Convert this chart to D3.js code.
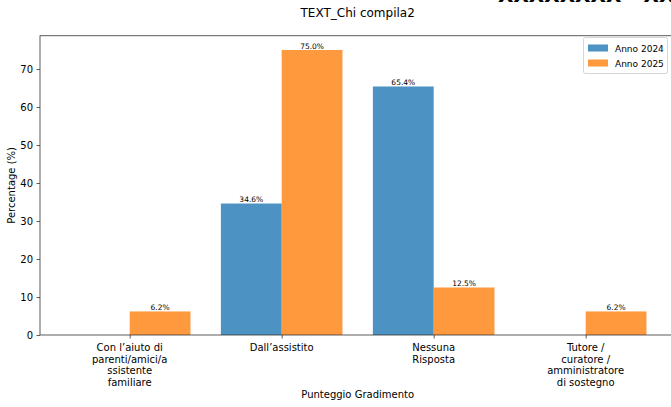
<!DOCTYPE html>
<html><head><meta charset="utf-8">
<script src="https://cdn.jsdelivr.net/npm/d3@7"></script>
<style>body{margin:0;background:#fff}svg{display:block}text{font-family:"DejaVu Sans",sans-serif;fill:#000}</style>
</head><body><svg id="c" width="671" height="407"></svg>
<script>
const categories = [
  ["Con l\u2019aiuto di","parenti/amici/a","ssistente","familiare"],
  ["Dall\u2019assistito"],
  ["Nessuna","Risposta"],
  ["Tutore /","curatore /","amministratore","di sostegno"]
];
const values2024 = [0, 34.6, 65.4, 0];
const values2025 = [6.2, 75.0, 12.5, 6.2];
const seriesNames = ["Anno 2024", "Anno 2025"];
const seriesColors = ["#1f77b4", "#ff7f0e"];
const yTicks = [0,10,20,30,40,50,60,70];

const svg = d3.select("#c");
const L = 40, T = 35.75, B = 335;
const x = d3.scaleLinear().domain([-0.59, 3.59]).range([L, L + 4.18*152]);
const y = d3.scaleLinear().domain([0, 78.75]).range([B, T]);
const R = x.range()[1];
const bw = 0.4;

// top cut-off text (partially outside the frame, as in the reference)
svg.append("text").attr("x", 498).attr("y", 2).style("font-weight","bold").style("font-size","20px")
  .text("XXXXXXXX - XXXXX");

svg.append("text").attr("x", (L+R)/2).attr("y", 17).attr("text-anchor","middle").style("font-size","12px").text("TEXT_Chi compila2");

const series = [values2024, values2025];
series.forEach((vals, si) => {
  const off = si === 0 ? -bw : 0;
  const g = svg.append("g");
  vals.forEach((v, i) => {
    const x0 = x(i + off), x1 = x(i + off + bw);
    g.append("rect").attr("x", x0).attr("width", x1 - x0)
      .attr("y", y(v)).attr("height", y(0) - y(v))
      .attr("fill", seriesColors[si]).attr("fill-opacity", 0.8);
    if (v > 0) {
      g.append("text").attr("x", (x0+x1)/2).attr("y", y(v) - 1.5)
        .attr("text-anchor","middle").style("font-size","7.5px").text(v.toFixed(1) + "%");
    }
  });
});

// axes frame
svg.append("rect").attr("x", L).attr("y", T).attr("width", R - L).attr("height", B - T)
  .attr("fill","none").attr("stroke","#333").attr("stroke-width",0.8);

// y axis
const ya = svg.append("g").attr("transform", `translate(${L},0)`)
  .call(d3.axisLeft(y).tickValues(yTicks).tickSize(3.5).tickPadding(3.5));
ya.select(".domain").remove();
ya.selectAll("line").attr("stroke","#333").attr("stroke-width",0.8);
ya.selectAll("text").style("font-size","10px").style("font-family","DejaVu Sans");

// x axis
const xa = svg.append("g").attr("transform", `translate(0,${B})`)
  .call(d3.axisBottom(x).tickValues([0,1,2,3]).tickSize(3.5).tickFormat(""));
xa.select(".domain").remove();
xa.selectAll("line").attr("stroke","#333").attr("stroke-width",0.8);
categories.forEach((lines, i) => {
  const t = svg.append("text").attr("x", x(i)).attr("y", B + 16).attr("text-anchor","middle").style("font-size","10px");
  lines.forEach((ln, j) => t.append("tspan").attr("x", x(i)).attr("dy", j === 0 ? 0 : 11.7).text(ln));
});

svg.append("text").attr("x", (L+R)/2).attr("y", 398).attr("text-anchor","middle").style("font-size","10px").text("Punteggio Gradimento");
svg.append("text").attr("transform", `translate(15,${(T+B)/2}) rotate(-90)`).attr("text-anchor","middle").style("font-size","10px").text("Percentage (%)");

// legend
const lg = svg.append("g");
lg.append("rect").attr("x", 583.5).attr("y", 37.5).attr("width", 84).attr("height", 36).attr("rx", 2)
  .attr("fill","#fff").attr("fill-opacity",0.8).attr("stroke","#ccc").attr("stroke-width",0.8);
seriesNames.forEach((n, i) => {
  const yy = 44.5 + i * 15;
  lg.append("rect").attr("x", 588).attr("y", yy).attr("width", 20).attr("height", 7)
    .attr("fill", seriesColors[i]).attr("fill-opacity", 0.8);
  lg.append("text").attr("x", 615).attr("y", yy + 7).style("font-size","9px").text(n);
});
</script></body></html>
